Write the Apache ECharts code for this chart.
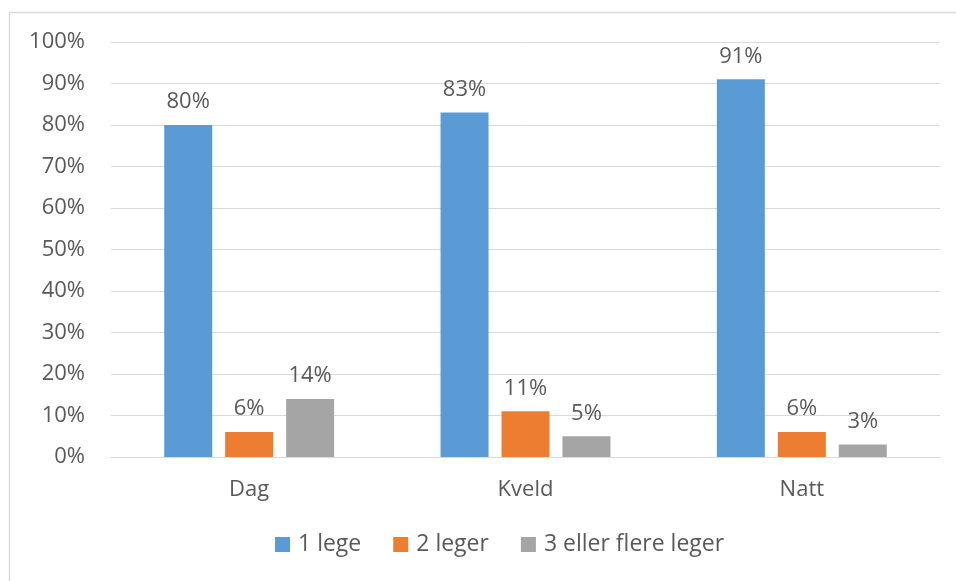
<!DOCTYPE html>
<html>
<head>
<meta charset="utf-8">
<script src="https://cdn.jsdelivr.net/npm/echarts@6/dist/echarts.min.js"></script>
<style>
  html, body { margin: 0; padding: 0; background: #fff; }
  #chart { width: 956px; height: 581px; }
</style>
</head>
<body>
<div id="chart"></div>
<script>
const categories = ["Dag", "Kveld", "Natt"];
const seriesNames = ["1 lege", "2 leger", "3 eller flere leger"];
const oneDoctor = [80, 83, 91];
const twoDoctors = [6, 11, 6];
const threePlus = [14, 5, 3];
const colors = ["#5b9bd5", "#ed7d31", "#a5a5a5"];

const font = "'Open Sans', 'Liberation Sans', sans-serif";
const textColor = "#595959";

const myChart = echarts.init(document.getElementById("chart"));

const makeSeries = (name, data) => ({
  name: name,
  type: "bar",
  data: data,
  barWidth: 48,
  barGap: "27%",
  label: {
    show: true,
    position: "top",
    distance: 12,
    formatter: "{c}%",
    color: textColor,
    fontFamily: font,
    fontSize: 22
  }
});

myChart.setOption({
  color: colors,
  textStyle: { fontFamily: font },
  graphic: [
    {
      type: "rect",
      shape: { x: 9.5, y: 12.5, width: 960, height: 600 },
      style: { fill: "none", stroke: "#d9d9d9", lineWidth: 1.5 },
      silent: true
    }
  ],
  grid: {
    left: 111,
    right: 16,
    top: 42,
    bottom: 124
  },
  legend: {
    data: seriesNames,
    bottom: 20,
    left: 270,
    itemWidth: 15,
    itemHeight: 15,
    itemGap: 32,
    icon: "rect",
    textStyle: { color: textColor, fontSize: 23, fontFamily: font, padding: [0, 0, 0, 3] }
  },
  xAxis: {
    type: "category",
    data: categories,
    axisTick: { show: false },
    axisLine: { lineStyle: { color: "#d9d9d9", width: 1 } },
    axisLabel: {
      color: textColor,
      fontSize: 22,
      fontFamily: font,
      margin: 22
    }
  },
  yAxis: {
    type: "value",
    min: 0,
    max: 100,
    interval: 10,
    axisLine: { show: false },
    axisTick: { show: false },
    splitLine: { lineStyle: { color: "#d9d9d9", width: 1 } },
    axisLabel: {
      formatter: "{value}%",
      color: textColor,
      fontSize: 22,
      fontFamily: font,
      margin: 26
    }
  },
  series: [
    makeSeries(seriesNames[0], oneDoctor),
    makeSeries(seriesNames[1], twoDoctors),
    makeSeries(seriesNames[2], threePlus)
  ]
});

window.addEventListener("resize", () => {
  myChart.resize();
});
</script>
</body>
</html>
